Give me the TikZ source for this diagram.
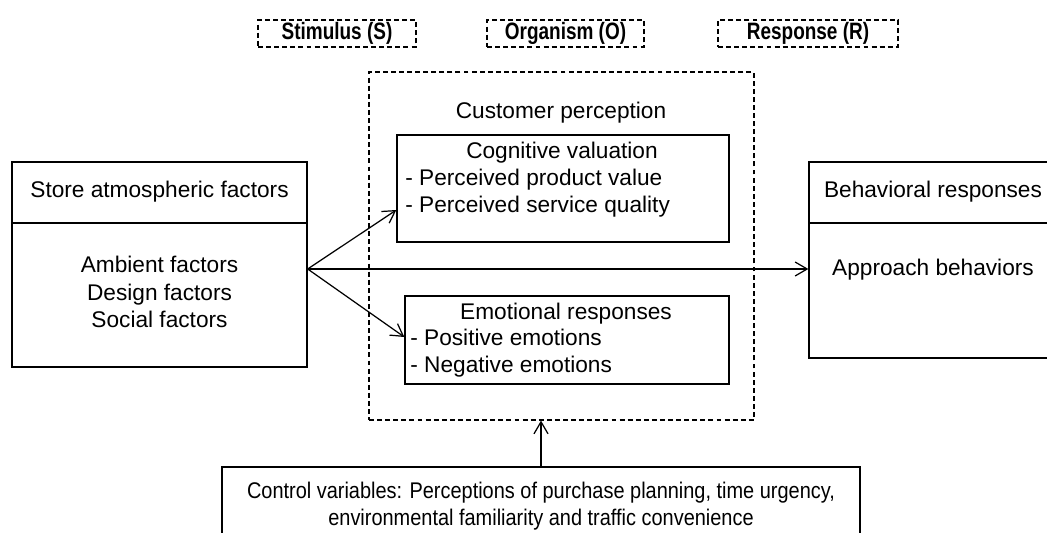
\documentclass[tikz,border=0pt]{standalone}
\usepackage{fontspec}
\setmainfont{Liberation Sans}
\newfontfamily\narrowfont[FakeStretch=0.88]{Liberation Sans}
\newfontfamily\headfont[FakeStretch=0.80]{Liberation Sans}
\usetikzlibrary{arrows.meta, positioning}

\begin{document}
\begin{tikzpicture}[
    x=0.02cm, y=-0.02cm,
    font=\fontsize{12.9}{15.5}\selectfont,
    kotak/.style={draw, rectangle, line width=0.8pt, inner sep=0pt},
    putus/.style={draw, rectangle, dash pattern=on 2.8pt off 1.8pt, line width=0.7pt, inner sep=0pt},
    judul/.style={putus, minimum height=0.54cm, font=\headfont\bfseries\fontsize{13.5}{16}\selectfont},
    teks/.style={inner sep=0pt, align=left},
    arah/.style={-{Straight Barb[length=2.4mm, width=2.8mm]}, line width=0.7pt}
  ]
  \useasboundingbox (0,0) rectangle (1047,533);
  \clip (0,0) rectangle (1047,533);

  % S-O-R headers
  \node[judul, minimum width=3.16cm] (stim) at (337,33.5) {Stimulus (S)};
  \node[judul, minimum width=3.14cm] (orgn) at (565.5,33.5) {Organism (O)};
  \node[judul, minimum width=3.6cm] (resp) at (808,33.5) {Response (R)};

  % Organism frame with its two inner boxes
  \node[putus, minimum width=7.7cm, minimum height=6.96cm] (cust) at (561.5,246) {};
  \node (custjudul) at (561,113) {Customer perception};

  \node[kotak, minimum width=6.64cm, minimum height=2.14cm] (cog) at (563,188.5) {};
  \node (cogjudul) at (562,153) {Cognitive valuation};
  \node[teks, anchor=west] (coglist) at (405,193) {- Perceived product value\\- Perceived service quality};

  \node[kotak, minimum width=6.48cm, minimum height=1.76cm] (emo) at (567,340) {};
  \node (emojudul) at (566,314) {Emotional responses};
  \node[teks, anchor=west] (emolist) at (410,353) {- Positive emotions\\- Negative emotions};

  % Stimulus box (left)
  \node[kotak, minimum width=5.9cm, minimum height=4.1cm] (store) at (159.5,264.5) {};
  \draw[line width=0.8pt] (store.west |- 0,223) -- (store.east |- 0,223);
  \node (storejudul) at (159.5,192) {Store atmospheric factors};
  \node[align=center] (storeisi) at (159.5,292) {Ambient factors\\Design factors\\Social factors};

  % Response box (right)
  \node[kotak, minimum width=4.96cm, minimum height=3.92cm] (beh) at (933,260) {};
  \draw[line width=0.8pt] (beh.west |- 0,223) -- (beh.east |- 0,223);
  \node (behjudul) at (933,192) {Behavioral responses};
  \node (behisi) at (933,270) {Approach behaviors};

  % Control variables (bottom)
  \node[kotak, minimum width=12.76cm, minimum height=1.56cm, align=center,
        font=\narrowfont\fontsize{12.9}{15.5}\selectfont] (ctrl) at (541,506)
        {Control variables: Perceptions of purchase planning, time urgency,\\environmental familiarity and traffic convenience};

  % Connectors
  \coordinate (cabang) at ([yshift=-0.09cm]store.east);
  \draw[arah] (cabang) -- ([yshift=-0.43cm]cog.west);
  \draw[arah] (cabang) -- ([yshift=0.06cm]emo.west);
  \draw[arah] (cabang) -- (cabang -| beh.west);
  \draw[arah] (ctrl.north) -- (ctrl.north |- cust.south);
\end{tikzpicture}
\end{document}
